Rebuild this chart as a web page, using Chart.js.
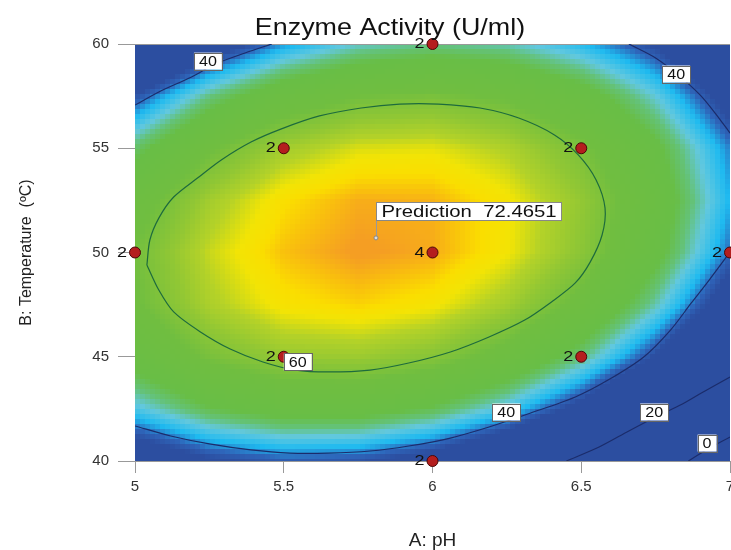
<!DOCTYPE html>
<html>
<head>
<meta charset="utf-8">
<script src="https://cdn.jsdelivr.net/npm/chart.js@4.4.0/dist/chart.umd.min.js"></script>
<style>
    html, body { margin: 0; padding: 0; background: #fff; }
</style>
</head>
<body>
<canvas id="enzymeChart" width="731" height="550"></canvas>
<script>
// grid the shading is read at (pH across, temperature down)
var pHGrid = [5, 5.25, 5.5, 5.75, 6, 6.25, 6.5, 6.75, 7];
var tempGrid = [40, 42.5, 45, 47.5, 50, 52.5, 55, 57.5, 60];
// activity (U/ml), one row per temperature
var activityGrid = [
    [32.5, 37.3, 39.4, 38.7, 35.3, 29.0, 20.0, 8.2, -6.4],
    [44.6, 50.1, 52.8, 52.8, 49.9, 44.3, 36.0, 24.8, 10.9],
    [52.9, 59.1, 62.4, 63.0, 60.8, 55.9, 48.1, 37.6, 24.4],
    [57.5, 64.3, 68.3, 69.6, 68.0, 63.7, 56.6, 46.7, 34.1],
    [58.4, 65.8, 70.4, 72.3, 71.4, 67.7, 61.3, 52.1, 40.1],
    [55.5, 63.5, 68.8, 71.3, 71.1, 68.0, 62.2, 53.7, 42.3],
    [48.8, 57.5, 63.5, 66.6, 67.0, 64.6, 59.4, 51.5, 40.8],
    [38.4, 47.8, 54.3, 58.1, 59.2, 57.4, 52.9, 45.6, 35.5],
    [24.3, 34.3, 41.5, 45.9, 47.6, 46.5, 42.8, 37.5, 27.5]
];

// design points
var designPH = [5, 5.5, 5.5, 6, 6, 6, 6.5, 6.5, 7];
var designTemp = [50, 45, 55, 40, 50, 60, 45, 55, 50];
var designRuns = [2, 2, 2, 2, 4, 2, 2, 2, 2];

// contour lines [pH, temp]
var contour60 = [
    [5.04, 49.40], [5.05, 50.60], [5.08, 51.65], [5.13, 52.66], [5.21, 53.57], [5.29, 54.44],
    [5.39, 55.30], [5.49, 55.92], [5.62, 56.55], [5.76, 56.93], [5.89, 57.12], [6.02, 57.12],
    [6.16, 56.93], [6.29, 56.45], [6.41, 55.64], [6.49, 54.68], [6.55, 53.48], [6.58, 52.13],
    [6.57, 50.84], [6.53, 49.54], [6.48, 48.54], [6.40, 47.63], [6.31, 46.76], [6.19, 45.95],
    [6.06, 45.23], [5.92, 44.70], [5.79, 44.36], [5.65, 44.27], [5.54, 44.36], [5.43, 44.75],
    [5.32, 45.37], [5.22, 46.19], [5.13, 47.15], [5.08, 48.20], [5.04, 49.40]
];
var contour40TopLeft = [[5, 57.07], [5.08, 57.70], [5.19, 58.42], [5.27, 59.04], [5.37, 59.57], [5.46, 60]];
var contour40TopRight = [[6.66, 60], [6.75, 59.33], [6.83, 58.46], [6.90, 57.55], [6.95, 56.69], [7, 55.73]];
var contour40Bottom = [
    [5, 41.68], [5.12, 41.20], [5.25, 40.82], [5.39, 40.53], [5.52, 40.38], [5.65, 40.38],
    [5.79, 40.48], [5.92, 40.72], [6.06, 41.10], [6.19, 41.63], [6.33, 42.30], [6.48, 43.07],
    [6.59, 43.88], [6.71, 44.99], [6.80, 46.28], [6.87, 47.58], [6.93, 48.68], [7, 50.02]
];
var contour20 = [[6.45, 40], [6.56, 40.67], [6.66, 41.44], [6.75, 42.11], [6.84, 42.73], [6.91, 43.31], [7, 44.03]];
var contour0 = [[6.86, 40], [6.92, 40.53], [7, 41.15]];

var contourLabels = [
    ['40', 5.245, 59.18], ['40', 6.819, 58.56], ['40', 6.248, 42.35],
    ['20', 6.745, 42.35], ['0', 6.923, 40.86], ['60', 5.547, 44.75]
];
var predictionPH = 5.81;
var predictionTemp = 50.7;
var predictionText = 'Prediction  72.4651';

var colourStops = [
    [38, [44, 78, 160]],
    [40, [46, 100, 185]],
    [42.5, [30, 186, 240]],
    [45.5, [98, 200, 222]],
    [48, [100, 194, 120]],
    [50.5, [104, 190, 70]],
    [58, [112, 190, 64]],
    [62, [145, 199, 52]],
    [65, [180, 210, 40]],
    [67.5, [242, 228, 5]],
    [69, [250, 222, 0]],
    [70.5, [249, 190, 14]],
    [72, [245, 158, 35]]
];

function colourFor(v) {
    if (v <= colourStops[0][0]) return 'rgb(' + colourStops[0][1].join(',') + ')';
    for (var i = 1; i < colourStops.length; i++) {
        if (v <= colourStops[i][0]) {
            var a = colourStops[i - 1], b = colourStops[i];
            var t = (v - a[0]) / (b[0] - a[0]);
            var c = [0, 1, 2].map(function(k) { return Math.round(a[1][k] + (b[1][k] - a[1][k]) * t); });
            return 'rgb(' + c.join(',') + ')';
        }
    }
    return 'rgb(' + colourStops[colourStops.length - 1][1].join(',') + ')';
}

function findCell(list, v) {
    for (var i = 0; i < list.length - 2; i++) {
        if (v < list[i + 1]) return i;
    }
    return list.length - 2;
}

function activityAt(ph, temp) {
    var i = findCell(pHGrid, ph), j = findCell(tempGrid, temp);
    var u = (ph - pHGrid[i]) / (pHGrid[i + 1] - pHGrid[i]);
    var w = (temp - tempGrid[j]) / (tempGrid[j + 1] - tempGrid[j]);
    var r0 = activityGrid[j], r1 = activityGrid[j + 1];
    var lo = r0[i] + (r0[i + 1] - r0[i]) * u;
    var hi = r1[i] + (r1[i + 1] - r1[i]) * u;
    return lo + (hi - lo) * w;
}

function toPoints(list) {
    return list.map(function(p) { return {x: p[0], y: p[1]}; });
}

function stretchText(ctx, text, x, y, sx, align) {
    ctx.save();
    ctx.translate(x, y);
    ctx.scale(sx, 1);
    ctx.textAlign = align;
    ctx.fillText(text, 0, 0);
    ctx.restore();
}

var FONT = "'Liberation Sans', Arial, sans-serif";

var heatmapPlugin = {
    id: 'heatmap',
    beforeDatasetsDraw: function(chart) {
        var ctx = chart.ctx, a = chart.chartArea;
        var xs = chart.scales.x, ys = chart.scales.y;
        var step = 5;
        ctx.save();
        for (var px = a.left; px < a.right; px += step) {
            var ph = xs.getValueForPixel(Math.min(px + step / 2, a.right));
            for (var py = a.top; py < a.bottom; py += step) {
                var t = ys.getValueForPixel(Math.min(py + step / 2, a.bottom));
                ctx.fillStyle = colourFor(activityAt(ph, t));
                ctx.fillRect(px, py, Math.min(step, a.right - px), Math.min(step, a.bottom - py));
            }
        }
        ctx.strokeStyle = '#999';
        ctx.lineWidth = 1;
        ctx.beginPath();
        ctx.moveTo(a.left, a.top + 0.5);
        ctx.lineTo(a.right, a.top + 0.5);
        ctx.stroke();
        ctx.restore();
    }
};

var annotationPlugin = {
    id: 'annotations',
    afterDatasetsDraw: function(chart) {
        var ctx = chart.ctx;
        var xs = chart.scales.x, ys = chart.scales.y;
        ctx.save();
        ctx.textBaseline = 'middle';

        // contour value boxes
        ctx.font = '14px ' + FONT;
        contourLabels.forEach(function(l) {
            var px = xs.getPixelForValue(l[1]), py = ys.getPixelForValue(l[2]);
            var w = ctx.measureText(l[0]).width * 1.15 + 10, h = 17;
            ctx.fillStyle = '#fff';
            ctx.fillRect(px - w / 2, py - h / 2, w, h);
            ctx.strokeStyle = '#666';
            ctx.lineWidth = 1;
            ctx.strokeRect(Math.round(px - w / 2) + 0.5, Math.round(py - h / 2) + 0.5, Math.round(w), h);
            ctx.fillStyle = '#111';
            stretchText(ctx, l[0], px, py + 1, 1.15, 'center');
        });

        // replicate counts beside design points
        ctx.font = '15px ' + FONT;
        ctx.fillStyle = '#111';
        designPH.forEach(function(p, i) {
            var px = xs.getPixelForValue(p), py = ys.getPixelForValue(designTemp[i]);
            stretchText(ctx, String(designRuns[i]), px - 8, py, 1.2, 'right');
        });

        // prediction flag
        var fx = xs.getPixelForValue(predictionPH), fy = ys.getPixelForValue(predictionTemp);
        ctx.font = '16px ' + FONT;
        var bw = ctx.measureText(predictionText).width * 1.27 + 10, bh = 18;
        var bx = Math.round(fx) + 0.5, by = Math.round(fy - 18 - bh) + 0.5;
        ctx.strokeStyle = '#999';
        ctx.beginPath();
        ctx.moveTo(bx, fy - 2);
        ctx.lineTo(bx, by + bh);
        ctx.stroke();
        ctx.fillStyle = '#fff';
        ctx.fillRect(bx, by, bw, bh);
        ctx.strokeStyle = '#888';
        ctx.strokeRect(bx, by, Math.round(bw), bh);
        ctx.fillStyle = '#111';
        stretchText(ctx, predictionText, bx + 5, by + bh / 2 + 1, 1.27, 'left');
        ctx.beginPath();
        ctx.arc(fx, fy, 2, 0, Math.PI * 2);
        ctx.fillStyle = '#ddd';
        ctx.fill();
        ctx.strokeStyle = '#888';
        ctx.stroke();
        ctx.restore();
    },
    afterDraw: function(chart) {
        var ctx = chart.ctx;
        ctx.save();
        ctx.font = '24px ' + FONT;
        ctx.fillStyle = '#111';
        ctx.textBaseline = 'alphabetic';
        stretchText(ctx, 'Enzyme Activity (U/ml)', 390, 35, 1.12, 'center');
        ctx.restore();
    }
};

function contourSet(list, colour) {
    return {
        data: toPoints(list),
        showLine: true,
        borderColor: colour,
        borderWidth: 1.2,
        pointRadius: 0,
        tension: 0.3,
        fill: false
    };
}

Chart.defaults.font.family = FONT;

var ctx = document.getElementById('enzymeChart');
var myChart = new Chart(ctx, {
    type: 'scatter',
    data: {
        datasets: [
            {
                data: designPH.map(function(p, i) { return {x: p, y: designTemp[i]}; }),
                pointRadius: 5.5,
                pointBackgroundColor: '#b41e1e',
                pointBorderColor: '#4a0808',
                pointBorderWidth: 1,
                showLine: false,
                clip: false
            },
            contourSet(contour60, '#1d6b3d'),
            contourSet(contour40TopLeft, '#1b2c6b'),
            contourSet(contour40TopRight, '#1b2c6b'),
            contourSet(contour40Bottom, '#1b2c6b'),
            contourSet(contour20, '#1b2c6b'),
            contourSet(contour0, '#1b2c6b')
        ]
    },
    options: {
        responsive: false,
        animation: false,
        layout: { autoPadding: false, padding: { top: 44, right: 1, left: 0, bottom: 0 } },
        plugins: {
            legend: { display: false },
            tooltip: { enabled: false },
            title: { display: false }
        },
        scales: {
            x: {
                type: 'linear',
                min: 5,
                max: 7,
                ticks: {
                    stepSize: 0.5, color: '#333', font: { size: 15 }, padding: 5,
                    callback: function(v) { return String(v); }
                },
                grid: { drawOnChartArea: false, tickLength: 12, color: '#999' },
                border: { color: '#999' },
                title: { display: true, text: 'A: pH', color: '#222', font: { size: 19 }, padding: { top: 0, bottom: -2 } },
                afterFit: function(s) { s.height = 89; s.paddingLeft = 0; s.paddingRight = 0; }
            },
            y: {
                min: 40,
                max: 60,
                ticks: { stepSize: 5, color: '#333', font: { size: 15 }, padding: 9 },
                grid: { drawOnChartArea: false, tickLength: 17, color: '#999' },
                border: { color: '#999' },
                title: { display: true, text: 'B: Temperature  (ºC)', color: '#222', font: { size: 16 }, padding: { top: 17, bottom: 0 } },
                afterFit: function(s) { s.width = 135; s.paddingTop = 0; s.paddingBottom = 0; }
            }
        }
    },
    plugins: [heatmapPlugin, annotationPlugin]
});
</script>
</body>
</html>
